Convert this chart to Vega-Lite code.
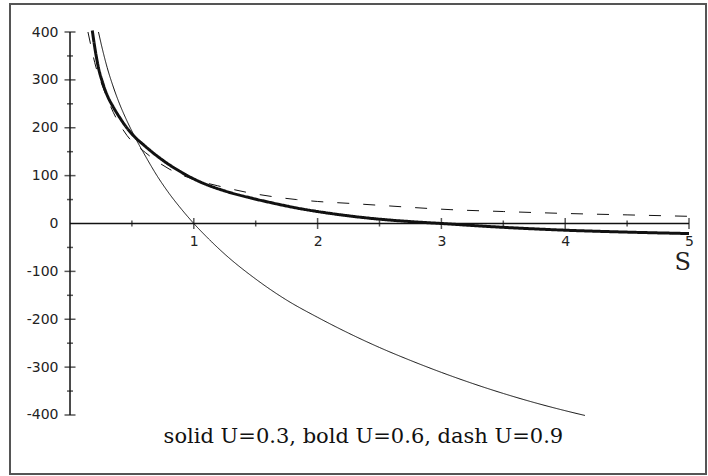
{
  "$schema": "https://vega.github.io/schema/vega-lite/v6.json",
  "autosize": "none",
  "width": 696,
  "height": 470,
  "padding": {"left": 10, "top": 4, "right": 2, "bottom": 2},
  "background": "white",
  "config": {"view": {"stroke": "#555", "strokeWidth": 2}},
  "datasets": {
    "one": [{}],
    "curves": [
      {"U": "0.3", "S": 0.23, "v": 400}, {"U": "0.3", "S": 0.25, "v": 377}, {"U": "0.3", "S": 0.3, "v": 326},
      {"U": "0.3", "S": 0.35, "v": 285}, {"U": "0.3", "S": 0.4, "v": 250}, {"U": "0.3", "S": 0.45, "v": 220},
      {"U": "0.3", "S": 0.5, "v": 193}, {"U": "0.3", "S": 0.55, "v": 168}, {"U": "0.3", "S": 0.6, "v": 145},
      {"U": "0.3", "S": 0.7, "v": 101}, {"U": "0.3", "S": 0.8, "v": 63}, {"U": "0.3", "S": 0.9, "v": 30},
      {"U": "0.3", "S": 1.0, "v": 0}, {"U": "0.3", "S": 1.1, "v": -27}, {"U": "0.3", "S": 1.25, "v": -64},
      {"U": "0.3", "S": 1.5, "v": -116}, {"U": "0.3", "S": 1.75, "v": -160}, {"U": "0.3", "S": 2.0, "v": -196},
      {"U": "0.3", "S": 2.25, "v": -229}, {"U": "0.3", "S": 2.5, "v": -259}, {"U": "0.3", "S": 2.75, "v": -286},
      {"U": "0.3", "S": 3.0, "v": -311}, {"U": "0.3", "S": 3.25, "v": -334}, {"U": "0.3", "S": 3.5, "v": -355},
      {"U": "0.3", "S": 3.75, "v": -374}, {"U": "0.3", "S": 4.0, "v": -391}, {"U": "0.3", "S": 4.16, "v": -401},
      {"U": "0.6", "S": 0.18, "v": 403}, {"U": "0.6", "S": 0.2, "v": 368}, {"U": "0.6", "S": 0.23, "v": 325},
      {"U": "0.6", "S": 0.26, "v": 297}, {"U": "0.6", "S": 0.3, "v": 268}, {"U": "0.6", "S": 0.35, "v": 243},
      {"U": "0.6", "S": 0.4, "v": 222}, {"U": "0.6", "S": 0.45, "v": 203}, {"U": "0.6", "S": 0.5, "v": 187},
      {"U": "0.6", "S": 0.6, "v": 163}, {"U": "0.6", "S": 0.75, "v": 132}, {"U": "0.6", "S": 0.9, "v": 107},
      {"U": "0.6", "S": 1.05, "v": 87}, {"U": "0.6", "S": 1.25, "v": 68}, {"U": "0.6", "S": 1.45, "v": 54},
      {"U": "0.6", "S": 1.65, "v": 42}, {"U": "0.6", "S": 1.86, "v": 31}, {"U": "0.6", "S": 2.0, "v": 25},
      {"U": "0.6", "S": 2.25, "v": 16}, {"U": "0.6", "S": 2.5, "v": 9}, {"U": "0.6", "S": 2.75, "v": 4},
      {"U": "0.6", "S": 3.0, "v": 0}, {"U": "0.6", "S": 3.5, "v": -8}, {"U": "0.6", "S": 4.0, "v": -14},
      {"U": "0.6", "S": 4.5, "v": -18}, {"U": "0.6", "S": 5.0, "v": -21},
      {"U": "0.9", "S": 0.145, "v": 400}, {"U": "0.9", "S": 0.17, "v": 370}, {"U": "0.9", "S": 0.2, "v": 336},
      {"U": "0.9", "S": 0.27, "v": 282}, {"U": "0.9", "S": 0.35, "v": 232}, {"U": "0.9", "S": 0.46, "v": 184},
      {"U": "0.9", "S": 0.61, "v": 148}, {"U": "0.9", "S": 0.8, "v": 114}, {"U": "0.9", "S": 1.0, "v": 92},
      {"U": "0.9", "S": 1.19, "v": 79}, {"U": "0.9", "S": 1.43, "v": 65}, {"U": "0.9", "S": 1.64, "v": 56},
      {"U": "0.9", "S": 1.83, "v": 50}, {"U": "0.9", "S": 2.0, "v": 46}, {"U": "0.9", "S": 2.26, "v": 42},
      {"U": "0.9", "S": 2.5, "v": 38}, {"U": "0.9", "S": 3.07, "v": 29}, {"U": "0.9", "S": 3.5, "v": 25},
      {"U": "0.9", "S": 4.0, "v": 21}, {"U": "0.9", "S": 4.5, "v": 18}, {"U": "0.9", "S": 5.0, "v": 15}
    ],
    "xticks": [
      {"t": 0.5, "kind": "minor"}, {"t": 1, "kind": "major"}, {"t": 1.5, "kind": "minor"}, {"t": 2, "kind": "major"},
      {"t": 2.5, "kind": "minor"}, {"t": 3, "kind": "major"}, {"t": 3.5, "kind": "minor"}, {"t": 4, "kind": "major"},
      {"t": 4.5, "kind": "minor"}, {"t": 5, "kind": "major"}
    ],
    "yticks": [
      {"t": -400, "kind": "major"}, {"t": -350, "kind": "minor"}, {"t": -300, "kind": "major"}, {"t": -250, "kind": "minor"},
      {"t": -200, "kind": "major"}, {"t": -150, "kind": "minor"}, {"t": -100, "kind": "major"}, {"t": -50, "kind": "minor"},
      {"t": 50, "kind": "minor"}, {"t": 100, "kind": "major"}, {"t": 150, "kind": "minor"}, {"t": 200, "kind": "major"},
      {"t": 250, "kind": "minor"}, {"t": 300, "kind": "major"}, {"t": 350, "kind": "minor"}, {"t": 400, "kind": "major"}
    ]
  },
  "layer": [
    {
      "data": {"name": "curves"},
      "mark": {"type": "line", "interpolate": "monotone", "color": "#111"},
      "encoding": {
        "x": {
          "field": "S", "type": "quantitative",
          "scale": {"domain": [-0.4847, 5.1373], "nice": false, "zero": false},
          "axis": {"orient": "bottom", "offset": -250.5, "domain": false, "ticks": false, "grid": false, "title": null,
                   "values": [1, 2, 3, 4, 5], "labelExpr": "'' + datum.value", "labelFont": "DejaVu Sans", "labelFontSize": 14, "labelColor": "#222",
                   "labelPadding": 11, "labelFlush": false, "labelOverlap": false}
        },
        "y": {
          "field": "v", "type": "quantitative",
          "scale": {"domain": [-523.24, 458.49], "nice": false, "zero": false},
          "axis": {"orient": "left", "offset": -60, "domain": false, "ticks": false, "grid": false, "title": null,
                   "values": [-400, -300, -200, -100, 0, 100, 200, 300, 400],
                   "labelExpr": "datum.value < 0 ? '-' + abs(datum.value) : '' + datum.value",
                   "labelFont": "DejaVu Sans", "labelFontSize": 14,
                   "labelColor": "#222", "labelPadding": 12, "labelFlush": false, "labelOverlap": false}
        },
        "detail": {"field": "U"},
        "strokeWidth": {"field": "U", "type": "nominal", "scale": {"type": "ordinal", "domain": ["0.3", "0.6", "0.9"], "range": [1, 3, 1]}, "legend": null},
        "strokeDash": {"field": "U", "type": "nominal", "scale": {"domain": ["0.3", "0.6", "0.9"], "range": [[1, 0], [1, 0], [12, 14]]}, "legend": null}
      }
    },
    {
      "data": {"name": "one"},
      "mark": {"type": "rule", "color": "#111", "strokeWidth": 1.5},
      "encoding": {
        "x": {"datum": 0, "type": "quantitative"},
        "x2": {"datum": 5},
        "y": {"datum": 0, "type": "quantitative"}
      }
    },
    {
      "data": {"name": "one"},
      "mark": {"type": "rule", "color": "#111", "strokeWidth": 1.5},
      "encoding": {
        "x": {"datum": 0, "type": "quantitative"},
        "y": {"datum": -400, "type": "quantitative"},
        "y2": {"datum": 400}
      }
    },
    {
      "data": {"name": "xticks"},
      "mark": {"type": "tick", "orient": "vertical", "color": "#111", "thickness": 1.5},
      "encoding": {
        "x": {"field": "t", "type": "quantitative"},
        "y": {"datum": 0, "type": "quantitative"},
        "size": {"field": "kind", "type": "nominal", "scale": {"type": "ordinal", "domain": ["major", "minor"], "range": [11, 6]}, "legend": null}
      }
    },
    {
      "data": {"name": "yticks"},
      "mark": {"type": "tick", "orient": "horizontal", "color": "#111", "thickness": 1.5},
      "encoding": {
        "y": {"field": "t", "type": "quantitative"},
        "x": {"datum": 0, "type": "quantitative"},
        "size": {"field": "kind", "type": "nominal", "scale": {"type": "ordinal", "domain": ["major", "minor"], "range": [12, 6]}, "legend": null}
      }
    },
    {
      "data": {"name": "one"},
      "mark": {"type": "text", "text": "S", "font": "DejaVu Serif", "fontSize": 24, "color": "#222", "align": "center", "baseline": "middle"},
      "encoding": {
        "x": {"datum": 4.95, "type": "quantitative"},
        "y": {"datum": -82, "type": "quantitative"}
      }
    },
    {
      "data": {"name": "one"},
      "mark": {"type": "text", "text": "solid U=0.3, bold U=0.6, dash U=0.9", "font": "DejaVu Serif", "fontSize": 21, "color": "#111", "align": "center", "baseline": "middle"},
      "encoding": {
        "x": {"datum": 2.37, "type": "quantitative"},
        "y": {"datum": -446, "type": "quantitative"}
      }
    }
  ]
}
